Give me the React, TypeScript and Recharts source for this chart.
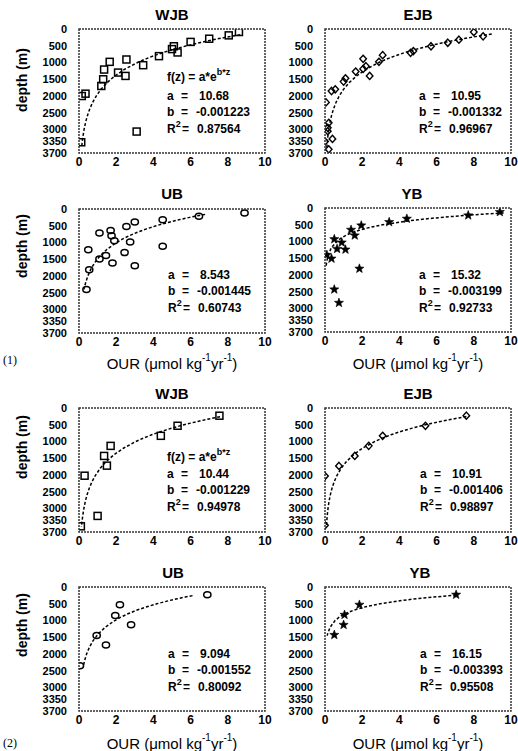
import React from "react";
import { ScatterChart, Scatter, XAxis, YAxis } from "recharts";

// OUR (x) vs depth (y) for each basin; (1) = all stations, (2) = second set
const WJB1_PTS: [number, number][] = [
  [8.6, 90], [8.05, 190], [7.0, 290], [6.0, 385], [5.1, 515], [5.0, 600], [5.3, 700],
  [4.3, 810], [3.45, 1080], [2.55, 910], [2.5, 1400], [2.1, 1300], [1.65, 980],
  [1.35, 1210], [1.3, 1500], [1.2, 1700], [0.35, 1930], [0.15, 2000], [3.1, 3060], [0.12, 3380],
];
const EJB1_PTS: [number, number][] = [
  [8.0, 90], [8.5, 220], [7.2, 320], [6.6, 410], [5.7, 515], [4.6, 710], [4.75, 660],
  [3.1, 780], [2.9, 980], [2.05, 890], [2.2, 1110], [2.4, 1400], [2.05, 1190], [1.65, 1270],
  [1.1, 1470], [1.0, 1570], [0.55, 1800], [0.35, 1850], [0.05, 2190], [0.2, 2800],
  [0.15, 2950], [0.15, 3050], [0.4, 3280], [0.0, 3360], [0.2, 3590],
];
const UB1_PTS: [number, number][] = [
  [8.9, 120], [6.45, 220], [4.5, 320], [3.0, 390], [2.55, 520], [1.7, 640], [1.1, 715],
  [1.75, 800], [1.9, 950], [2.75, 985], [4.5, 1115], [0.5, 1215], [2.45, 1300],
  [1.45, 1390], [1.1, 1490], [1.8, 1610], [3.0, 1690], [0.55, 1810], [0.4, 2400],
];
const YB1_PTS: [number, number][] = [
  [9.4, 120], [7.7, 220], [4.4, 320], [3.45, 420], [1.95, 520], [1.4, 650], [1.6, 820],
  [0.5, 930], [0.9, 1030], [0.65, 1220], [1.1, 1240], [0.1, 1400], [0.35, 1510],
  [1.85, 1810], [0.5, 2430], [0.75, 2830],
];
const WJB2_PTS: [number, number][] = [
  [7.55, 230], [5.3, 530], [4.4, 830], [1.7, 1130], [1.35, 1430], [1.5, 1720],
  [0.3, 2020], [1.0, 3220], [0.1, 3530],
];
const EJB2_PTS: [number, number][] = [
  [7.6, 230], [5.4, 530], [3.1, 830], [2.35, 1130], [1.6, 1430], [0.75, 1730],
  [0.0, 2030], [0.0, 3500],
];
const UB2_PTS: [number, number][] = [
  [6.9, 230], [2.2, 530], [1.95, 850], [2.8, 1130], [0.95, 1450], [1.45, 1730], [0.05, 2350],
];
const YB2_PTS: [number, number][] = [
  [7.05, 230], [1.85, 530], [1.05, 830], [1.0, 1130], [0.5, 1430],
];

// fit f(z) = a*e^(b*z): [a, b, R2, zmin, zmax]
const WJB1_FIT: [number, number, string, number, number] = [10.68, -0.001223, "0.87564", 170, 3500];
const EJB1_FIT: [number, number, string, number, number] = [10.95, -0.001332, "0.96967", 150, 3600];
const UB1_FIT: [number, number, string, number, number] = [8.543, -0.001445, "0.60743", 160, 2400];
const YB1_FIT: [number, number, string, number, number] = [15.32, -0.003199, "0.92733", 146, 1750];
const WJB2_FIT: [number, number, string, number, number] = [10.44, -0.001229, "0.94978", 260, 3550];
const EJB2_FIT: [number, number, string, number, number] = [10.91, -0.001406, "0.98897", 257, 3550];
const UB2_FIT: [number, number, string, number, number] = [9.094, -0.001552, "0.80092", 257, 2400];
const YB2_FIT: [number, number, string, number, number] = [16.15, -0.003393, "0.95508", 244, 1450];

const FIT_DEPTHS = [
  100, 150, 200, 250, 300, 350, 400, 500, 600, 700, 800, 900, 1000, 1200, 1400, 1600,
  1800, 2000, 2200, 2400, 2600, 2800, 3000, 3200, 3400, 3600, 3700,
];

const X_TICKS = [0, 2, 4, 6, 8, 10];
const Y_TICKS = [0, 500, 1000, 1500, 2000, 2500, 3000, 3350, 3700];

const FONT = "'Liberation Sans', Arial, sans-serif";
const PLOT_W = 186;
const PLOT_H = 124;
const M_TOP = 10;
const M_RIGHT = 12;

// panel placement: [plot left, plot top]
const PANEL_POS: [number, number][] = [
  [79, 29], [325, 29], [79, 209], [325, 208], [79, 408], [325, 408], [79, 587], [325, 587],
];

const square = (p: any) => (
  <rect x={p.cx - 3.5} y={p.cy - 3.5} width={7} height={7} fill="none" stroke="#000" strokeWidth={1.5} />
);
const diamond = (p: any) => (
  <polygon
    points={`${p.cx},${p.cy - 3.6} ${p.cx + 3.3},${p.cy} ${p.cx},${p.cy + 3.6} ${p.cx - 3.3},${p.cy}`}
    fill="none" stroke="#000" strokeWidth={1.4}
  />
);
const circle = (p: any) => (
  <ellipse cx={p.cx} cy={p.cy} rx={3.6} ry={3} fill="none" stroke="#000" strokeWidth={1.5} />
);
const star = (p: any) => {
  const pts: string[] = [];
  for (let i = 0; i < 10; i++) {
    const r = i % 2 === 0 ? 4.8 : 2;
    const ang = -Math.PI / 2 + (i * Math.PI) / 5;
    pts.push(`${p.cx + r * Math.cos(ang)},${p.cy + r * Math.sin(ang)}`);
  }
  return <polygon points={pts.join(" ")} fill="#000" stroke="#000" strokeWidth={0.6} />;
};

function Panel({ pts, fit, shape, idx }: any) {
  const [px, py] = PANEL_POS[idx];
  const left = idx % 2 === 0 ? 0 : 259;
  const yw = px - left;
  const [a, b, , z0, z1] = fit;
  const zs = [z0, ...FIT_DEPTHS.filter((z) => z > z0 && z < z1), z1];
  const curve = zs.map((z) => ({ x: a * Math.exp(b * z), y: z }));
  const data = pts.map(([x, y]: [number, number]) => ({ x, y }));
  const tick = { fontSize: 11, fontWeight: "bold", fill: "#000", fontFamily: FONT };
  return (
    <div style={{ position: "absolute", left, top: py - M_TOP }}>
      <ScatterChart
        width={yw + PLOT_W + M_RIGHT}
        height={M_TOP + PLOT_H + 20}
        margin={{ top: M_TOP, right: M_RIGHT, bottom: 0, left: 0 }}
      >
        <XAxis
          type="number" dataKey="x" domain={[0, 10]} ticks={X_TICKS} interval={0}
          axisLine={false} tickLine={false} tickSize={3} tickMargin={1} height={20}
          tick={{ ...tick, fontSize: 12 }} allowDataOverflow
        />
        <YAxis
          type="number" dataKey="y" domain={[0, 3700]} reversed ticks={Y_TICKS} interval={0}
          axisLine={false} tickLine={false} width={yw} tickSize={6} tickMargin={6}
          tick={tick} allowDataOverflow
        />
        <Scatter
          data={curve}
          line={{ stroke: "#000", strokeWidth: 1.5, strokeDasharray: "3 2" }}
          shape={() => <g />}
          isAnimationActive={false}
        />
        <Scatter data={data} shape={shape} isAnimationActive={false} />
      </ScatterChart>
    </div>
  );
}

function Stats({ x0, ya, fit, fz }: any) {
  const [a, b, r2] = fit;
  const st = { fontSize: 12, fontWeight: "bold" as const, fontFamily: FONT };
  const rows = [
    { k: "a", v: String(a), y: ya, dx: 32 },
    { k: "b", v: String(b), y: ya + 16, dx: 29 },
  ];
  return (
    <g style={st} fill="#000" dominantBaseline="central">
      {fz !== undefined && (
        <text x={x0} y={fz}>
          f(z) = a*e<tspan dy={-5} fontSize={9}>b*z</tspan>
        </text>
      )}
      {rows.map((r) => (
        <g key={r.k}>
          <text x={x0} y={r.y}>{r.k}</text>
          <text x={x0 + 14} y={r.y}>=</text>
          <text x={x0 + r.dx} y={r.y}>{r.v}</text>
        </g>
      ))}
      <text x={x0} y={ya + 33}>
        R<tspan dy={-5} fontSize={9}>2</tspan>
      </text>
      <text x={x0 + 15} y={ya + 33}>=</text>
      <text x={x0 + 30} y={ya + 33}>{r2}</text>
    </g>
  );
}

function OurLabel({ x, y }: { x: number; y: number }) {
  return (
    <text x={x} y={y} textAnchor="middle" dominantBaseline="central" fontSize={15} fontFamily={FONT}>
      OUR (μmol kg<tspan dy={-6} fontSize={10}>-1</tspan>
      <tspan dy={6}>yr</tspan>
      <tspan dy={-6} fontSize={10}>-1</tspan>
      <tspan dy={6}>)</tspan>
    </text>
  );
}

function Title({ x, y, t }: any) {
  return (
    <text x={x} y={y} textAnchor="middle" dominantBaseline="central" fontSize={15} fontWeight="bold" fontFamily={FONT}>
      {t}
    </text>
  );
}

function Depth({ y }: { y: number }) {
  return (
    <text
      x={22} y={y} transform={`rotate(-90 22 ${y})`} textAnchor="middle" dominantBaseline="central"
      fontSize={14} fontWeight="bold" fontFamily={FONT}
    >
      depth (m)
    </text>
  );
}

export default function App() {
  return (
    <div style={{ position: "absolute", left: 0, top: 0, width: 518, height: 751, background: "#fff" }}>
      <Panel idx={0} pts={WJB1_PTS} fit={WJB1_FIT} shape={square} />
      <Panel idx={1} pts={EJB1_PTS} fit={EJB1_FIT} shape={diamond} />
      <Panel idx={2} pts={UB1_PTS} fit={UB1_FIT} shape={circle} />
      <Panel idx={3} pts={YB1_PTS} fit={YB1_FIT} shape={star} />
      <Panel idx={4} pts={WJB2_PTS} fit={WJB2_FIT} shape={square} />
      <Panel idx={5} pts={EJB2_PTS} fit={EJB2_FIT} shape={diamond} />
      <Panel idx={6} pts={UB2_PTS} fit={UB2_FIT} shape={circle} />
      <Panel idx={7} pts={YB2_PTS} fit={YB2_FIT} shape={star} />

      <svg width={518} height={751} style={{ position: "absolute", left: 0, top: 0, pointerEvents: "none" }}>
        {/* plot frames, dotted like the scanned original */}
        {PANEL_POS.map(([x, y], i) => (
          <path
            key={i}
            d={`M${x},${y} H${x + PLOT_W} V${y + PLOT_H} H${x} Z`}
            fill="none" stroke="#333" strokeWidth={1.5} strokeDasharray="2 1"
          />
        ))}

        <Title x={172} y={14} t="WJB" />
        <Title x={418} y={14} t="EJB" />
        <Title x={172} y={193} t="UB" />
        <Title x={412} y={193} t="YB" />
        <Title x={172} y={393} t="WJB" />
        <Title x={418} y={393} t="EJB" />
        <Title x={173} y={572} t="UB" />
        <Title x={420} y={572} t="YB" />

        <Depth y={80} />
        <Depth y={246} />
        <Depth y={447} />
        <Depth y={625} />

        <Stats x0={167} ya={96} fz={77} fit={WJB1_FIT} />
        <Stats x0={419} ya={96} fit={EJB1_FIT} />
        <Stats x0={168} ya={275} fit={UB1_FIT} />
        <Stats x0={419} ya={275} fit={YB1_FIT} />
        <Stats x0={167} ya={474} fz={457} fit={WJB2_FIT} />
        <Stats x0={420} ya={474} fit={EJB2_FIT} />
        <Stats x0={168} ya={654} fit={UB2_FIT} />
        <Stats x0={420} ya={654} fit={YB2_FIT} />

        <OurLabel x={172} y={363} />
        <OurLabel x={418} y={363} />
        <OurLabel x={172} y={743} />
        <OurLabel x={418} y={743} />

        <text x={3} y={360} dominantBaseline="central" fontSize={12} fontFamily="'Liberation Serif', serif">(1)</text>
        <text x={3} y={743} dominantBaseline="central" fontSize={12} fontFamily="'Liberation Serif', serif">(2)</text>
      </svg>
    </div>
  );
}
